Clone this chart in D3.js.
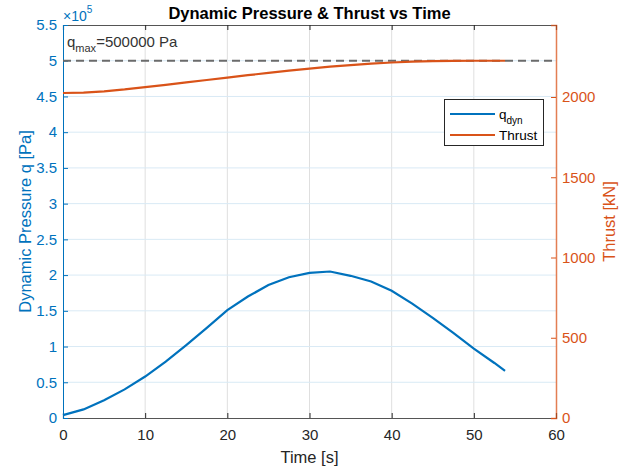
<!DOCTYPE html>
<html>
<head>
<meta charset="utf-8">
<script src="https://cdn.jsdelivr.net/npm/d3@7"></script>
<style>
  html, body { margin: 0; padding: 0; background: #fff; }
  svg { display: block; font-family: "Liberation Sans", Arial, sans-serif; }
</style>
</head>
<body>
<div id="chart"></div>
<script>
// time samples [s]
const time = [0, 2.5, 5, 7.5, 10, 12.5, 15, 17.5, 20, 22.5, 25, 27.5, 30, 32.5, 35, 37.5, 40, 42.5, 45, 47.5, 50, 52.5, 53.8];
// dynamic pressure [x1e5 Pa]
const qDyn = [0.04, 0.12, 0.25, 0.40, 0.58, 0.79, 1.02, 1.26, 1.51, 1.70, 1.86, 1.97, 2.03, 2.05, 1.99, 1.91, 1.78, 1.60, 1.40, 1.19, 0.97, 0.77, 0.66];
// thrust [kN]
const thrust = [2025, 2027, 2035, 2047, 2062, 2076, 2091, 2106, 2121, 2136, 2150, 2164, 2177, 2189, 2199, 2208, 2215, 2220, 2223, 2225, 2226, 2226, 2226];

const qMax = 5;          // x1e5 Pa
const xTicks = [0, 10, 20, 30, 40, 50, 60];
const yLeftTicks = [0, 0.5, 1, 1.5, 2, 2.5, 3, 3.5, 4, 4.5, 5, 5.5];
const yRightTicks = [0, 500, 1000, 1500, 2000];

const W = 620, H = 470;
const m = { left: 63, right: 64, top: 25, bottom: 52 };
const blue = '#0072BD', orange = '#D95319', dark = '#262626';

const svg = d3.select('#chart').append('svg')
    .attr('width', W).attr('height', H);

const x  = d3.scaleLinear().domain([0, 60]).range([m.left, W - m.right]);
const yL = d3.scaleLinear().domain([0, 5.5]).range([H - m.bottom, m.top]);
const yR = d3.scaleLinear().domain([0, 1.1 * d3.max(thrust)]).range([H - m.bottom, m.top]);

// grid
svg.append('g').selectAll('line').data(xTicks.slice(1, -1)).join('line')
    .attr('x1', d => x(d)).attr('x2', d => x(d))
    .attr('y1', m.top).attr('y2', H - m.bottom)
    .attr('stroke', '#dfdfdf').attr('stroke-width', 1);
svg.append('g').selectAll('line').data(yLeftTicks.slice(1, -1)).join('line')
    .attr('x1', m.left).attr('x2', W - m.right)
    .attr('y1', d => yL(d)).attr('y2', d => yL(d))
    .attr('stroke', '#d9eaf5').attr('stroke-width', 1);

// axes
const fmt = d3.format('~g');
const gx = svg.append('g').attr('transform', `translate(0,${H - m.bottom})`)
    .call(d3.axisBottom(x).tickValues(xTicks).tickSize(-5).tickPadding(11).tickFormat(fmt));
const gxTop = svg.append('g').attr('transform', `translate(0,${m.top})`)
    .call(d3.axisTop(x).tickValues(xTicks).tickSize(-5).tickFormat(''));
const gl = svg.append('g').attr('transform', `translate(${m.left},0)`)
    .call(d3.axisLeft(yL).tickValues(yLeftTicks).tickSize(-5).tickPadding(6).tickFormat(fmt));
const gr = svg.append('g').attr('transform', `translate(${W - m.right},0)`)
    .call(d3.axisRight(yR).tickValues(yRightTicks).tickSize(-5).tickPadding(6).tickFormat(d3.format('d')));

[gx, gxTop].forEach(g => {
    g.select('.domain').attr('stroke', '#555').attr('stroke-width', 1.2);
    g.selectAll('.tick line').attr('stroke', dark);
    g.selectAll('text').attr('fill', dark).style('font-size', '15px');
});
gl.select('.domain').attr('stroke', blue);
gl.selectAll('.tick line').attr('stroke', blue);
gl.selectAll('text').attr('fill', blue).style('font-size', '15px');
gr.select('.domain').attr('stroke', orange).attr('stroke-opacity', 0.75).attr('stroke-width', 1.5);
gr.selectAll('.tick line').attr('stroke', orange);
gr.selectAll('text').attr('fill', orange).style('font-size', '15px');
svg.selectAll('.domain').attr('fill', 'none');

// qmax reference
svg.append('line')
    .attr('x1', m.left).attr('x2', W - m.right)
    .attr('y1', yL(qMax)).attr('y2', yL(qMax))
    .attr('stroke', '#6b6b6b').attr('stroke-width', 1.8)
    .attr('stroke-dasharray', '8,5');

// data lines
const lineQ = d3.line().x((d, i) => x(time[i])).y(d => yL(d));
const lineT = d3.line().x((d, i) => x(time[i])).y(d => yR(d));
svg.append('path').datum(thrust).attr('d', lineT)
    .attr('fill', 'none').attr('stroke', orange).attr('stroke-width', 2.2);
svg.append('path').datum(qDyn).attr('d', lineQ)
    .attr('fill', 'none').attr('stroke', blue).attr('stroke-width', 2.2);

// qmax annotation
const ann = svg.append('text').attr('x', 67).attr('y', 47)
    .attr('fill', '#333').style('font-size', '15px');
ann.append('tspan').text('q');
ann.append('tspan').attr('dy', 5).style('font-size', '11px').text('max');
ann.append('tspan').attr('dy', -5).text('=500000 Pa');

// exponent
const ex = svg.append('text').attr('x', 63).attr('y', 21)
    .attr('fill', blue).style('font-size', '14px');
ex.append('tspan').text('\u00d710');
ex.append('tspan').attr('dy', -8).style('font-size', '10px').text('5');

// title & labels
svg.append('text').attr('x', (m.left + W - m.right) / 2).attr('y', 19)
    .attr('text-anchor', 'middle').attr('font-weight', 'bold')
    .attr('fill', '#000').style('font-size', '16.5px')
    .text('Dynamic Pressure & Thrust vs Time');
svg.append('text').attr('x', (m.left + W - m.right) / 2).attr('y', 463)
    .attr('text-anchor', 'middle').attr('fill', dark).style('font-size', '16.5px')
    .text('Time [s]');
svg.append('text')
    .attr('transform', `translate(31,${(m.top + H - m.bottom) / 2}) rotate(-90)`)
    .attr('text-anchor', 'middle').attr('fill', blue).style('font-size', '16.5px')
    .text('Dynamic Pressure q [Pa]');
svg.append('text')
    .attr('transform', `translate(615,${(m.top + H - m.bottom) / 2}) rotate(-90)`)
    .attr('text-anchor', 'middle').attr('fill', orange).style('font-size', '16.5px')
    .text('Thrust [kN]');

// legend
const lg = svg.append('g').attr('transform', 'translate(444.5,99.5)');
lg.append('rect').attr('width', 99).attr('height', 46)
    .attr('fill', '#fff').attr('stroke', dark).attr('stroke-width', 1);
const items = [{ color: blue, y: 14.5, name: 'q', sub: 'dyn' }, { color: orange, y: 35.5, name: 'Thrust' }];
items.forEach(it => {
    lg.append('line').attr('x1', 5.5).attr('x2', 50.5).attr('y1', it.y).attr('y2', it.y)
        .attr('stroke', it.color).attr('stroke-width', 2.2);
    const t = lg.append('text').attr('x', 54.5).attr('y', it.y + 4.5)
        .attr('fill', '#000').style('font-size', '13.5px');
    t.append('tspan').text(it.name);
    if (it.sub) t.append('tspan').attr('dy', 5).style('font-size', '10px').text(it.sub);
});
</script>
</body>
</html>
